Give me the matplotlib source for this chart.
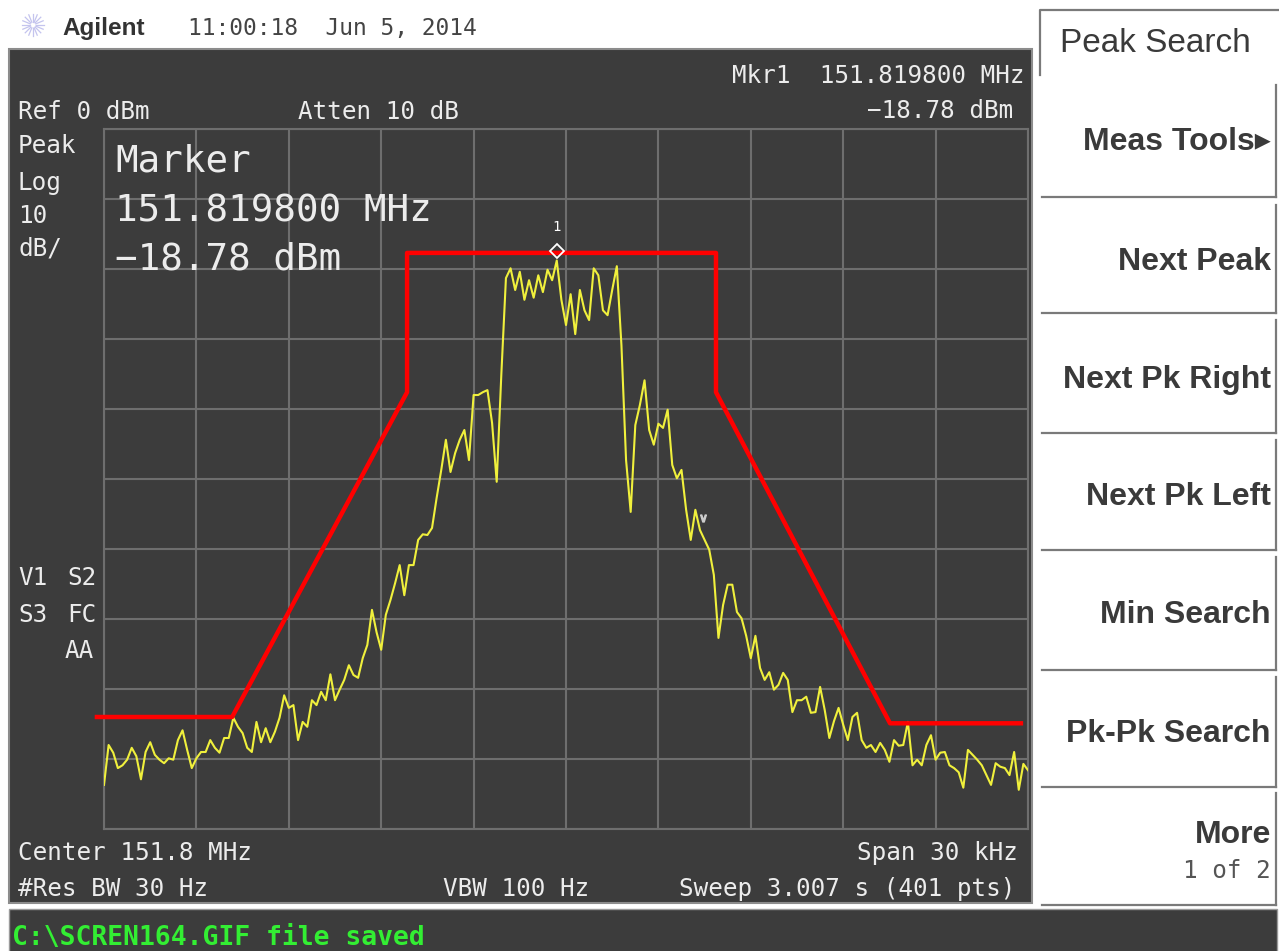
import numpy as np
import matplotlib
matplotlib.use("Agg")
import matplotlib.pyplot as plt
from matplotlib.patches import Rectangle
import matplotlib.transforms as mtransforms

# ---------------- data ----------------
span_khz = 30.0
n_points = 201
trace_dbm = [
    -93.7, -88.0, -89.1, -91.3, -90.9, -90.1, -88.4, -89.6, -92.9, -89.0,
    -87.6, -89.4, -90.1, -90.6, -89.9, -90.1, -87.3, -85.9, -88.7, -91.3,
    -89.9, -89.0, -89.0, -87.3, -88.4, -89.1, -87.0, -87.0, -84.1, -85.4,
    -86.3, -88.4, -89.0, -84.7, -87.6, -85.6, -87.6, -86.1, -84.1, -80.9,
    -82.7, -82.3, -87.3, -84.7, -85.4, -81.6, -82.3, -80.4, -81.6, -77.9,
    -81.6, -80.1, -78.7, -76.6, -78.0, -78.4, -75.6, -73.7, -68.7, -71.9,
    -74.4, -69.4, -67.3, -64.9, -62.3, -66.6, -62.3, -62.3, -58.7, -57.9,
    -58.0, -57.0, -52.7, -48.7, -44.4, -49.0, -46.3, -44.4, -43.0, -47.3,
    -38.0, -38.0, -37.6, -37.3, -42.0, -50.4, -35.1, -21.3, -19.9, -23.0,
    -20.4, -24.4, -21.6, -24.1, -20.9, -23.3, -20.1, -21.6, -18.78, -24.4,
    -28.0, -23.6, -29.3, -23.0, -25.9, -27.3, -19.9, -20.9, -25.9, -26.6,
    -23.0, -19.6, -30.9, -47.3, -54.7, -42.3, -39.4, -35.9, -43.0, -45.1,
    -42.1, -42.7, -40.1, -48.0, -49.9, -48.7, -54.4, -58.7, -54.4, -57.3,
    -58.7, -60.1, -63.7, -72.7, -68.0, -65.1, -65.1, -69.0, -69.9, -72.4,
    -75.6, -72.4, -77.0, -78.7, -77.6, -80.1, -79.4, -77.7, -78.7, -83.3,
    -81.6, -81.6, -81.1, -83.4, -83.3, -79.7, -83.0, -87.0, -84.6, -82.7,
    -85.1, -87.3, -84.0, -83.4, -87.3, -88.4, -88.0, -89.0, -87.7, -88.7,
    -90.4, -87.3, -88.1, -88.0, -84.7, -90.9, -90.1, -90.9, -88.0, -86.6,
    -90.1, -89.1, -89.0, -90.9, -91.3, -91.9, -94.1, -88.7, -89.4, -90.1,
    -90.9, -92.3, -93.7, -90.6, -91.1, -91.3, -92.3, -89.0, -94.4, -90.7, -91.6,
]
mask_khz = [-15.23, -10.84, -5.16, -5.16, 4.87, 4.87, 10.52, 14.77]
mask_dbm = [-84.0, -84.0, -37.6, -17.7, -17.7, -37.6, -84.9, -84.9]
marker_index = 98
marker2_khz, marker2_dbm = 4.45, -55.6
ref_level = 0
db_per_div = 10

softkeys = ["Meas Tools\u25B8", "Next Peak", "Next Pk Right", "Next Pk Left",
            "Min Search", "Pk-Pk Search", "More"]

freq_khz = np.linspace(-span_khz / 2, span_khz / 2, n_points)

# ---------------- figure ----------------
W, H = 1279, 951
fig = plt.figure(figsize=(W / 100, H / 100), dpi=100)
fig.patch.set_facecolor("white")

SCREEN = "#3c3c3c"
GRID = "#6e6e6e"
TXT = "#ececec"
MONO = "DejaVu Sans Mono"

bg = fig.add_axes([0, 0, 1, 1], zorder=0)
bg.set_xlim(0, W); bg.set_ylim(H, 0); bg.axis("off")

bg.add_patch(Rectangle((9, 49), 1023, 854, facecolor=SCREEN, edgecolor="#8c8c8c", lw=1.5))
bg.add_patch(Rectangle((9, 909), 1268, 46, facecolor=SCREEN, edgecolor="#9a9a9a", lw=1.0))

# Agilent logo (starburst)
for ang in np.arange(0, 360, 22.5):
    r = np.deg2rad(ang)
    bg.plot([33 + 3 * np.cos(r), 33 + 11 * np.cos(r)],
            [25 + 3 * np.sin(r), 25 + 11 * np.sin(r)], color="#c4c4ee", lw=0.9)

# softkey frames
KEY = "#7a7a7a"
bg.plot([1040, 1040, 1279], [75, 10, 10], color=KEY, lw=1.6)
tops = [85, 205, 320, 440, 557, 677, 793]
bots = [197, 313, 433, 550, 670, 787, 905]
for t, b in zip(tops, bots):
    bg.plot([1276, 1276], [t, b], color=KEY, lw=1.6)
    bg.plot([1042, 1276], [b, b], color=KEY, lw=1.6)

# ---------------- plot axes ----------------
ax = fig.add_axes([104 / W, 1 - 829 / H, 924 / W, 700 / H], zorder=1)
ax.patch.set_alpha(0)
ax.set_xlim(-span_khz / 2, span_khz / 2)
ax.set_ylim(ref_level - 10 * db_per_div, ref_level)
ax.set_xticks(np.linspace(-span_khz / 2, span_khz / 2, 11))
ax.set_yticks(np.arange(ref_level - 10 * db_per_div, ref_level + 1, db_per_div))
ax.grid(True, color=GRID, lw=1.5)
ax.tick_params(length=0, labelbottom=False, labelleft=False)
for s in ax.spines.values():
    s.set_color(GRID); s.set_linewidth(1.5)

ax.plot(freq_khz, trace_dbm, color="#f0f03c", lw=1.5, zorder=3)
ax.plot(mask_khz, mask_dbm, color="#ff0000", lw=3.2, clip_on=False, zorder=4)

mk_f, mk_v = freq_khz[marker_index], trace_dbm[marker_index]
off = ax.transData + mtransforms.ScaledTranslation(0, 0.09, fig.dpi_scale_trans)
ax.plot([mk_f], [mk_v], marker="D", ms=7, mfc="none", mec="white", mew=1.3,
        transform=off, zorder=5, clip_on=False)
ax.annotate("1", (mk_f, mk_v), xytext=(0, 24), textcoords="offset points",
            ha="center", va="center", color="white", fontsize=10, family=MONO, zorder=6)
ax.plot([marker2_khz], [marker2_dbm], marker=r"$\vee$", ms=5, color="#cccccc",
        ls="none", zorder=5)

# ---------------- texts ----------------
ov = fig.add_axes([0, 0, 1, 1], zorder=2)
ov.set_xlim(0, W); ov.set_ylim(H, 0); ov.axis("off"); ov.patch.set_alpha(0)

def T(x, y, s, size=17.5, color=TXT, ha="left", family=MONO, weight="normal"):
    ov.text(x, y, s, fontsize=size, color=color, ha=ha, va="baseline",
            family=family, fontweight=weight)

T(62, 35, "Agilent", 17.5, "#333333", family=["Liberation Sans", "DejaVu Sans"], weight="bold")
T(188, 35, "11:00:18  Jun 5, 2014", 16.5, "#444444")

T(1024, 83, "Mkr1  151.819800 MHz", ha="right")
T(18, 119, "Ref 0 dBm")
T(298, 119, "Atten 10 dB")
T(1013, 118, "\u221218.78 dBm", ha="right")
for s, y in [("Peak", 153), ("Log", 190), ("10", 223), ("dB/", 255)]:
    T(18, y, s)
T(115, 172, "Marker", 27)
T(115, 222, "151.819800 MHz", 27)
T(115, 270, "\u221218.78 dBm", 27)
T(18, 585, "V1"); T(67, 585, "S2")
T(18, 622, "S3"); T(67, 622, "FC")
T(65, 658, "AA")
T(18, 860, "Center 151.8 MHz")
T(1018, 860, "Span 30 kHz", ha="right")
T(18, 896, "#Res BW 30 Hz")
T(443, 896, "VBW 100 Hz")
T(1015, 896, "Sweep 3.007 s (401 pts)", ha="right")
T(12, 945, "C:\\SCREN164.GIF file saved", 19, "#33ee33", weight="bold")

SANS = ["Liberation Sans", "DejaVu Sans"]
T(1060, 52, "Peak Search", 24, "#3a3a3a", family=SANS)
key_base = [150, 270, 388, 505, 623, 742, 843]
for s, y in zip(softkeys, key_base):
    T(1271, y, s, 23, "#3a3a3a", ha="right", family=SANS, weight="bold")
T(1271, 878, "1 of 2", 17.5, "#555555", ha="right")

fig.savefig("out.png", dpi=100)
